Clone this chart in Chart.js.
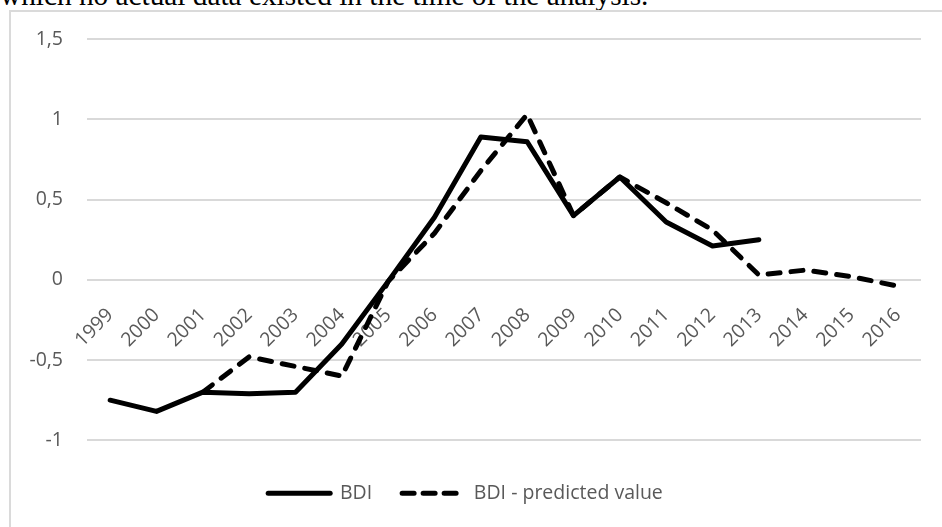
<!DOCTYPE html>
<html>
<head>
<meta charset="utf-8">
<script src="https://cdn.jsdelivr.net/npm/chart.js@4"></script>
<style>
  html, body { margin: 0; padding: 0; background: #fff; overflow: hidden; }
  body { width: 942px; height: 527px; position: relative; }
  #note { position: absolute; left: 0; top: -19px; font-family: "Liberation Serif", serif; font-size: 29.3px; line-height: 29px; color: #000; white-space: nowrap; }
  #frame { position: absolute; left: 9px; top: 10px; width: 980px; height: 600px; border: 2px solid #dadada; }
  #chart { position: absolute; left: 0; top: 0; }
</style>
</head>
<body>
<div id="note">which no actual data existed in the time of the analysis.</div>
<div id="frame"></div>
<canvas id="chart" width="942" height="527"></canvas>
<script>
// years on the x axis
const years = ['1999', '2000', '2001', '2002', '2003', '2004', '2005', '2006', '2007',
               '2008', '2009', '2010', '2011', '2012', '2013', '2014', '2015', '2016'];

// BDI, actual values (1999-2013)
const bdi = [-0.75, -0.82, -0.70, -0.71, -0.70, -0.40, -0.01, 0.39, 0.89,
             0.86, 0.40, 0.64, 0.36, 0.21, 0.25, null, null, null];

// BDI - predicted value (2001-2016)
const bdiPredicted = [null, null, -0.70, -0.48, -0.54, -0.60, -0.01, 0.29, 0.68,
                      1.03, 0.40, 0.64, 0.48, 0.31, 0.03, 0.06, 0.02, -0.04];

const yTicks = [-1, -0.5, 0, 0.5, 1, 1.5];

const grey = '#595959';
const font = {family: '"Open Sans", sans-serif', size: 19.5};

const ctx = document.getElementById('chart').getContext('2d');
const chart = new Chart(ctx, {
    type: 'line',
    data: {
        labels: years,
        datasets: [{
            label: 'BDI',
            data: bdi,
            borderColor: '#000',
            borderWidth: 5,
            borderCapStyle: 'round',
            borderJoinStyle: 'round',
            pointRadius: 0,
            tension: 0
        }, {
            label: 'BDI - predicted value',
            data: bdiPredicted,
            borderColor: '#000',
            borderWidth: 5,
            borderDash: [12, 11],
            borderCapStyle: 'round',
            borderJoinStyle: 'round',
            pointRadius: 0,
            tension: 0
        }]
    },
    options: {
        responsive: false,
        animation: false,
        layout: {padding: {left: 10, right: 21, top: 39, bottom: 14}},
        plugins: {
            tooltip: {enabled: false},
            title: {display: false},
            legend: {
                display: true,
                position: 'bottom',
                // empty title only used as spacer above the items
                title: {display: true, text: ' ', padding: 0, font: {size: 11}},
                labels: {
                    usePointStyle: true,
                    pointStyle: 'line',
                    pointStyleWidth: 62,
                    padding: 30,
                    color: grey,
                    font: font,
                    generateLabels: (c) => {
                        const items = Chart.defaults.plugins.legend.labels.generateLabels(c);
                        items.forEach(it => {
                            it.pointStyle = 'line';
                            it.lineCap = 'round';
                            it.lineWidth = 5;
                            it.strokeStyle = '#000';
                            it.lineDash = it.datasetIndex === 1 ? [12, 9] : [];
                        });
                        return items;
                    }
                }
            }
        },
        scales: {
            x: {
                type: 'category',
                position: {y: 0},
                offset: true,
                grid: {display: false, drawTicks: false},
                border: {display: false},
                ticks: {
                    color: grey,
                    font: font,
                    minRotation: 45,
                    maxRotation: 45,
                    autoSkip: false,
                    padding: 24
                }
            },
            y: {
                min: yTicks[0],
                max: yTicks[yTicks.length - 1],
                grid: {color: '#d9d9d9', lineWidth: 2, drawTicks: false},
                border: {display: false},
                afterFit: (s) => { s.width = 77; },
                afterBuildTicks: (s) => { s.ticks = yTicks.map(v => ({value: v})); },
                ticks: {
                    color: grey,
                    font: font,
                    padding: 24,
                    callback: (v) => String(v).replace('.', ',')
                }
            }
        }
    }
});
</script>
</body>
</html>
